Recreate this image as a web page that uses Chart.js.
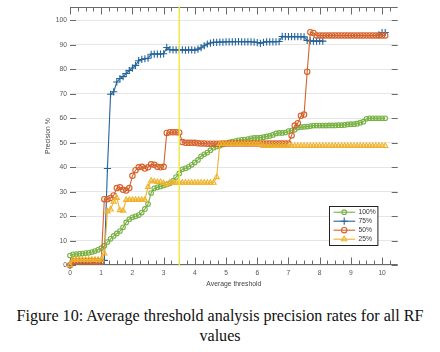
<!DOCTYPE html>
<html>
<head>
<meta charset="utf-8">
<script src="https://cdn.jsdelivr.net/npm/chart.js@4.4.0/dist/chart.umd.min.js"></script>
<style>
  body { margin: 0; background: #fff; width: 440px; height: 352px; overflow: hidden; position: relative; }
  #wrap { position: absolute; left: 0; top: 0; width: 440px; height: 296px; }
  #caption { position: absolute; left: 0; top: 306px; width: 440px; text-align: center;
             font-family: "Liberation Serif", serif; font-size: 16.1px; line-height: 20px; color: #111; }
</style>
</head>
<body>
<div id="wrap"><canvas id="line_graph"></canvas></div>
<div id="caption">Figure 10: Average threshold analysis precision rates for all RF<br>values</div>
<script>
// x values (average threshold)
var thresholds = [0,0.1,0.2,0.3,0.4,0.5,0.6,0.7,0.8,0.9,
  1,1.1,1.2,1.3,1.4,1.5,1.6,1.7,1.8,1.9,
  2,2.1,2.2,2.3,2.4,2.5,2.6,2.7,2.8,2.9,
  3,3.1,3.2,3.3,3.4,3.5,3.6,3.7,3.8,3.9,
  4,4.1,4.2,4.3,4.4,4.5,4.6,4.7,4.8,4.9,
  5,5.1,5.2,5.3,5.4,5.5,5.6,5.7,5.8,5.9,
  6,6.1,6.2,6.3,6.4,6.5,6.6,6.7,6.8,6.9,
  7,7.1,7.2,7.3,7.4,7.5,7.6,7.7,7.8,7.9,
  8,8.1,8.2,8.3,8.4,8.5,8.6,8.7,8.8,8.9,
  9,9.1,9.2,9.3,9.4,9.5,9.6,9.7,9.8,9.9,
  10,10.1];

var xTicks = [0,1,2,3,4,5,6,7,8,9,10];
var yTicks = [0,10,20,30,40,50,60,70,80,90,100];
var seriesNames = ["100%", "75%", "50%", "25%"];
var markerThreshold = 3.5;

// precision % per RF value
var prec100 = [4.0,4.5,4.6,4.7,4.8,5.0,5.1,5.4,5.8,6.3,
  7.0,8.0,9.5,10.8,12.0,13.0,14.0,15.5,17.5,18.8,
  19.6,20.0,20.5,21.5,23.0,25.0,29.5,31.4,31.8,32.2,
  32.6,33.0,33.5,34.5,36.0,37.5,39.2,39.6,40.2,41.0,
  42.0,43.0,44.5,45.3,46.0,47.0,48.0,48.5,48.8,49.3,
  49.7,50.2,50.5,50.7,51.0,51.2,51.3,51.5,51.8,52.0,
  52.0,52.1,52.3,52.6,52.8,53.2,53.8,54.0,54.0,54.2,
  54.8,55.0,55.3,56.2,56.4,56.5,56.6,56.8,57.0,57.0,
  57.0,57.0,57.0,57.1,57.1,57.1,57.2,57.2,57.3,57.5,
  57.6,57.6,57.8,58.2,58.6,59.8,60.0,60.0,60.0,60.0,
  60.0,60.0];

var prec75 = [0,1.8,1.8,1.8,1.8,1.8,1.8,1.8,1.8,1.8,
  1.8,2.0,39.5,69.8,70.8,74.8,76.2,77.0,78.3,79.5,
  80.5,81.6,83.5,84.0,84.3,84.5,86.1,86.2,86.2,86.2,
  86.3,88.9,88.0,87.9,87.9,87.9,87.9,87.8,87.9,87.9,
  87.8,88.2,88.8,89.6,90.3,90.7,91.0,91.0,91.1,91.1,
  91.2,91.2,91.2,91.2,91.3,91.2,91.2,91.2,91.2,91.1,
  90.9,90.6,91.0,91.2,91.2,91.2,91.2,91.3,93.4,93.3,
  93.3,93.3,93.3,93.3,93.3,93.2,91.8,91.6,91.5,91.5,
  91.5,91.5,null,null,null,null,null,null,null,null,
  null,null,null,null,null,null,null,null,null,94.0,
  95.0,95.0];

var prec50 = [0,1.5,1.5,1.5,1.5,1.5,1.5,1.5,1.5,1.5,
  1.5,27.0,27.0,27.5,28.5,31.5,31.8,30.8,30.5,31.5,
  36.5,38.8,40.0,40.2,39.5,40.0,41.2,41.0,40.2,40.0,
  40.2,54.0,54.3,54.3,54.3,54.2,50.3,50.0,50.0,50.0,
  50.0,49.8,49.7,49.7,49.6,49.6,49.6,49.6,49.6,49.7,
  49.7,49.7,49.7,49.7,49.7,49.7,49.7,49.7,49.7,49.7,
  49.7,49.7,49.7,49.7,49.7,49.7,49.7,49.7,49.7,49.7,
  49.7,53.0,57.0,58.0,61.0,61.5,79.0,95.1,94.8,93.8,
  93.8,93.8,93.8,93.8,93.8,93.8,93.8,93.8,93.8,93.8,
  93.8,93.8,93.8,93.8,93.8,93.8,93.8,93.8,93.8,93.8,
  93.8,93.8];

var prec25 = [0,2.3,2.3,2.3,2.3,2.3,2.3,2.3,2.3,2.3,
  2.3,4.8,22.0,22.8,26.0,27.5,22.5,22.3,26.7,26.7,
  26.7,26.7,26.7,26.7,26.7,32.0,34.5,34.2,34.0,34.0,
  33.5,33.0,33.7,33.7,33.7,33.7,33.7,33.7,33.7,33.7,
  33.7,33.7,33.7,33.7,33.7,33.7,33.7,36.0,49.5,49.5,
  49.5,49.5,49.5,49.5,49.5,49.5,49.5,49.5,49.5,49.5,
  49.5,49.5,48.7,48.7,48.7,48.7,48.7,48.7,48.7,48.7,
  48.7,48.7,48.7,48.7,48.7,48.7,48.7,48.7,48.7,48.7,
  48.7,48.7,48.7,48.7,48.7,48.7,48.7,48.7,48.7,48.7,
  48.7,48.7,48.7,48.7,48.7,48.7,48.7,48.7,48.7,48.7,
  48.7,48.7];

function toPoints(vals) {
  return thresholds.map(function(t, i) { return {x: t, y: vals[i]}; });
}

var tickFont = {family: "'Liberation Sans', Arial, sans-serif", size: 6.7};

// box, inward ticks (MATLAB style)
var framePlugin = {
  id: 'frame',
  beforeDatasetsDraw: function(chart) {
    var ctx = chart.ctx, a = chart.chartArea, xs = chart.scales.x, ys = chart.scales.y;
    var top = Math.round(a.top) + 0.5, bot = Math.round(a.bottom) - 0.5;
    ctx.save();
    ctx.strokeStyle = '#6a6a6a';
    ctx.lineWidth = 1;
    ctx.beginPath();
    ctx.moveTo(a.left, top); ctx.lineTo(a.right, top);
    ctx.moveTo(a.left, bot); ctx.lineTo(a.right, bot);
    xTicks.forEach(function(v) {
      var px = Math.round(xs.getPixelForValue(v)) + 0.5;
      ctx.moveTo(px, top); ctx.lineTo(px, top + 7);
      ctx.moveTo(px, bot); ctx.lineTo(px, bot - 7);
      [0.25, 0.5, 0.75].forEach(function(f) {
        var m = xs.getPixelForValue(v + f);
        if (m < a.right - 2) {
          m = Math.round(m) + 0.5;
          ctx.moveTo(m, top); ctx.lineTo(m, top + 4);
          ctx.moveTo(m, bot); ctx.lineTo(m, bot - 4);
        }
      });
    });
    yTicks.forEach(function(v) {
      var py = Math.round(ys.getPixelForValue(v)) + 0.5;
      ctx.moveTo(a.left, py); ctx.lineTo(a.left + 6, py);
      ctx.moveTo(a.right, py); ctx.lineTo(a.right - 6, py);
    });
    ctx.stroke();
    ctx.restore();
  }
};

// legend box inside the plot, bottom right
var legendPlugin = {
  id: 'boxLegend',
  afterDatasetsDraw: function(chart) {
    var ctx = chart.ctx, a = chart.chartArea;
    var bw = 48.4, bh = 39;
    var bx = Math.round(a.right - 20 - bw) + 0.5, by = Math.round(a.bottom - 20 - bh) + 0.5;
    ctx.save();
    ctx.fillStyle = '#fff';
    ctx.fillRect(bx, by, bw, bh);
    ctx.strokeStyle = '#222';
    ctx.lineWidth = 1;
    ctx.strokeRect(bx, by, bw, bh);
    for (var k = 0; k < seriesNames.length; k++) {
      var ds = chart.data.datasets[k];
      var y = by + 5.7 + k * 9;
      ctx.strokeStyle = ds.borderColor;
      ctx.lineWidth = 1.1;
      ctx.beginPath();
      ctx.moveTo(bx + 4, y); ctx.lineTo(bx + 25.7, y);
      ctx.stroke();
      ctx.fillStyle = 'rgba(255,255,255,0)';
      ctx.lineWidth = ds.pointBorderWidth;
      Chart.helpers.drawPoint(ctx, {pointStyle: ds.pointStyle, radius: ds.pointRadius, rotation: 0, borderWidth: ds.pointBorderWidth}, bx + 14.7, y);
      ctx.fillStyle = '#333';
      ctx.font = "6.7px 'Liberation Sans', Arial, sans-serif";
      ctx.textBaseline = 'middle';
      ctx.textAlign = 'left';
      ctx.fillText(seriesNames[k], bx + 29, y);
    }
    ctx.restore();
  }
};

function lineSet(name, vals, color, style, radius, order) {
  return {
    label: name,
    data: toPoints(vals),
    borderColor: color,
    backgroundColor: 'rgba(255,255,255,0)',
    borderWidth: 1.1,
    pointStyle: style,
    pointRadius: radius,
    pointBorderWidth: 1.1,
    pointBorderColor: color,
    pointBackgroundColor: 'rgba(255,255,255,0)',
    fill: false,
    spanGaps: false,
    clip: false,
    order: order
  };
}

var ctx = document.getElementById("line_graph");
var line_graph = new Chart(ctx, {
  type: 'line',
  data: {
    datasets: [
      lineSet(seriesNames[0], prec100, '#77b143', 'circle', 2.3, 5),
      lineSet(seriesNames[1], prec75, '#24649a', 'cross', 3.6, 4),
      lineSet(seriesNames[2], prec50, '#d4622b', 'circle', 2.7, 3),
      lineSet(seriesNames[3], prec25, '#efb22a', 'triangle', 3, 2),
      {
        label: 'threshold',
        data: [{x: markerThreshold, y: 0}, {x: markerThreshold, y: 105.4}],
        borderColor: '#f1e83c',
        borderWidth: 1.4,
        pointRadius: 0,
        fill: false,
        order: 1
      }
    ]
  },
  plugins: [framePlugin, legendPlugin],
  options: {
    responsive: true,
    maintainAspectRatio: false,
    animation: false,
    events: [],
    layout: {padding: {left: 0, right: 42.3, top: 6, bottom: 0}},
    plugins: {legend: {display: false}, tooltip: {enabled: false}},
    scales: {
      x: {
        type: 'linear',
        min: 0,
        max: 10.5,
        afterBuildTicks: function(scale) { scale.ticks = xTicks.map(function(v) { return {value: v}; }); },
        afterFit: function(scale) { scale.height = 30.7; },
        grid: {display: false, drawTicks: false},
        border: {display: false},
        ticks: {color: '#555', font: tickFont, padding: 4, maxRotation: 0, autoSkip: false},
        title: {display: true, text: 'Average threshold', color: '#444', font: {family: tickFont.family, size: 6.8},
                padding: {top: 0, bottom: 7.8}}
      },
      y: {
        min: 0,
        max: 105.4,
        afterBuildTicks: function(scale) { scale.ticks = yTicks.map(function(v) { return {value: v}; }); },
        afterFit: function(scale) { scale.width = 70; },
        grid: {color: '#e6e6e6', lineWidth: 1, drawTicks: false},
        border: {display: false},
        ticks: {color: '#555', font: tickFont, padding: 3},
        title: {display: true, text: 'Precision %', color: '#444', font: {family: tickFont.family, size: 6.8},
                padding: {top: 43.9, bottom: 0}}
      }
    }
  }
});
</script>
</body>
</html>
